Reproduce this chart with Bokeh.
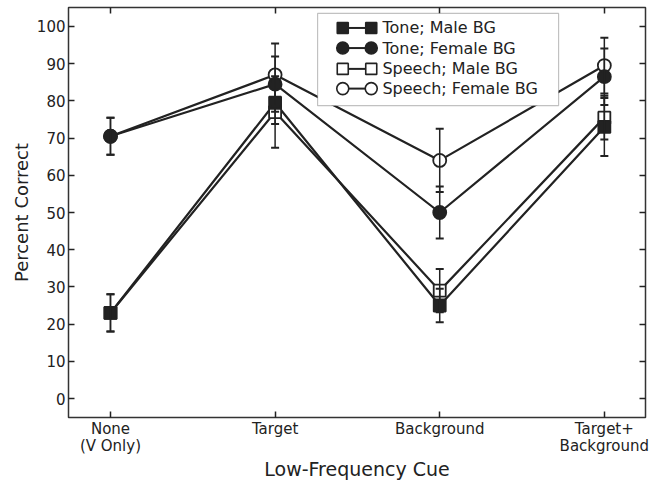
from bokeh.plotting import figure
from bokeh.models import (ColumnDataSource, Whisker, TeeHead, FixedTicker, LinearAxis,
                          Range1d, Label, BoxAnnotation)
from bokeh.embed import file_html
from bokeh.resources import INLINE

# ---- data ----
cues = [1, 2, 3, 4]
cue_labels = ["None\n(V Only)", "Target", "Background", "Target+\nBackground"]
series_names = ["Tone; Male BG", "Tone; Female BG", "Speech; Male BG", "Speech; Female BG"]

tone_male = [23.0, 79.5, 25.0, 73.0]
tone_male_err = [5.0, 5.7, 4.5, 7.8]
tone_female = [70.5, 84.5, 50.0, 86.5]
tone_female_err = [5.0, 7.4, 7.0, 7.6]
speech_male = [23.0, 77.0, 29.0, 75.5]
speech_male_err = [5.0, 9.6, 5.8, 5.9]
speech_female = [70.5, 87.0, 64.0, 89.5]
speech_female_err = [5.0, 8.4, 8.5, 7.5]

y_ticks = list(range(0, 101, 10))

FONT = "DejaVu Sans"
INK = "#222222"

p = figure(width=657, height=482, output_backend="svg", toolbar_location=None,
           x_range=Range1d(0.745, 4.25), y_range=Range1d(-5.1, 105.1),
           min_border_left=68, min_border_top=7, min_border_right=12, min_border_bottom=56)
p.xgrid.visible = False
p.ygrid.visible = False
p.outline_line_color = "#333333"
p.outline_line_width = 1.5

series = [
    (tone_male, tone_male_err, "square", INK),
    (tone_female, tone_female_err, "circle", INK),
    (speech_male, speech_male_err, "square", "white"),
    (speech_female, speech_female_err, "circle", "white"),
]
draw_order = [3, 2, 1, 0]

# error bars
for vals, errs, marker, fill in series:
    src = ColumnDataSource(dict(x=cues, y=vals,
                                lo=[v - e for v, e in zip(vals, errs)],
                                hi=[v + e for v, e in zip(vals, errs)]))
    w = Whisker(source=src, base="x", upper="hi", lower="lo", dimension="height",
                line_color=INK, line_width=1.5, level="glyph",
                upper_head=TeeHead(size=8, line_color=INK, line_width=2),
                lower_head=TeeHead(size=8, line_color=INK, line_width=2))
    p.add_layout(w)

# lines
for vals, errs, marker, fill in series:
    p.line(cues, vals, line_color=INK, line_width=2.2)

# markers
for i in draw_order:
    vals, errs, marker, fill = series[i]
    size = 12 if marker == "square" else 13
    p.scatter(cues, vals, marker=marker, size=size, fill_color=fill,
              line_color=INK, line_width=1.8)

# ---- axes ----
p.xaxis.ticker = FixedTicker(ticks=cues)
p.xaxis.major_label_overrides = {c: l for c, l in zip(cues, cue_labels)}
p.yaxis.ticker = FixedTicker(ticks=y_ticks)
for ax in (p.xaxis[0], p.yaxis[0]):
    ax.major_tick_in = 6
    ax.major_tick_out = 0
    ax.minor_tick_in = 0
    ax.minor_tick_out = 0
    ax.axis_line_color = "#333333"
    ax.major_tick_line_color = "#222222"
    ax.major_tick_line_width = 1.5
    ax.major_label_text_font = FONT
    ax.major_label_text_font_size = "15px"
    ax.major_label_text_color = "#222222"
    ax.axis_label_text_font = FONT
    ax.axis_label_text_font_style = "normal"
    ax.axis_label_text_color = "#222222"
p.xaxis.major_label_text_line_height = 0.95
p.xaxis.axis_label = "Low-Frequency Cue"
p.yaxis.axis_label = "Percent Correct"
p.xaxis.axis_label_text_font_size = "19px"
p.yaxis.axis_label_text_font_size = "18px"
p.xaxis.major_label_standoff = 2
p.yaxis.major_label_standoff = 3
p.xaxis.axis_label_standoff = 0
p.yaxis.axis_label_standoff = 2

blank_x = {c: "" for c in cues}
blank_y = {t: "" for t in y_ticks}
top_ax = LinearAxis(ticker=FixedTicker(ticks=cues), major_tick_in=6, major_tick_out=0,
                    minor_tick_in=0, minor_tick_out=0, major_label_overrides=blank_x,
                    major_label_standoff=0, axis_line_color=None,
                    major_tick_line_color="#222222", major_tick_line_width=1.5)
right_ax = LinearAxis(ticker=FixedTicker(ticks=y_ticks), major_tick_in=6, major_tick_out=0,
                      minor_tick_in=0, minor_tick_out=0, major_label_overrides=blank_y,
                      major_label_standoff=0, axis_line_color=None,
                      major_tick_line_color="#222222", major_tick_line_width=1.5)
p.add_layout(top_ax, "above")
p.add_layout(right_ax, "right")

# ---- legend (drawn manually: marker-line-marker) ----
leg_left, leg_right, leg_top, leg_bottom = 2.258, 3.722, 103.5, 78.7
p.add_layout(BoxAnnotation(left=leg_left, right=leg_right, top=leg_top, bottom=leg_bottom,
                           fill_color="white", fill_alpha=1.0, line_color="#333333",
                           line_width=1.2, level="annotation"))
row_y = [99.6, 94.2, 88.6, 83.3]
mx0, mx1, tx = 2.411, 2.584, 2.652
for (vals, errs, marker, fill), ry, name in zip(series, row_y, series_names):
    r1 = p.line([mx0, mx1], [ry, ry], line_color=INK, line_width=2)
    r2 = p.scatter([mx0, mx1], [ry, ry], marker=marker, size=11 if marker == "square" else 12,
                   fill_color=fill, line_color=INK, line_width=1.6)
    r1.level = "overlay"
    r2.level = "overlay"
    p.add_layout(Label(x=tx, y=ry, text=name, text_font=FONT, text_font_size="16px",
                       text_color="#222222", text_baseline="middle", level="overlay"))

open("out.html", "w").write(file_html(p, INLINE))
